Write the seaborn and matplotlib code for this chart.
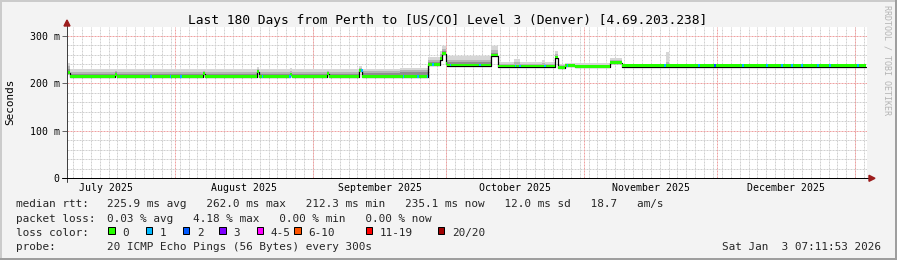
import numpy as np
import pandas as pd
import matplotlib
matplotlib.use("Agg")
import matplotlib.pyplot as plt
import seaborn as sns
from matplotlib.patches import Rectangle, Polygon
from matplotlib.lines import Line2D

# ---------------- data ----------------
TITLE = "Last 180 Days from Perth to [US/CO] Level 3 (Denver) [4.69.203.238]"
START = pd.Timestamp("2025-07-07 15:35")
SPAN_DAYS = 180
MONTH_LABELS = ["July 2025", "August 2025", "September 2025",
                "October 2025", "November 2025", "December 2025"]
Y_TICKS = [0, 100, 200, 300]
Y_TICK_LABELS = ["0", "100 m", "200 m", "300 m"]

seg_day = [0.0, 0.6, 10.8, 11.2, 30.6, 31.0, 42.7, 43.1, 50.1, 50.6, 58.4, 58.9,
           65.8, 66.3, 75.0, 81.3, 84.0, 84.4, 85.2, 85.5, 95.5, 96.9, 100.5,
           102.0, 106.8, 107.6, 109.8, 110.4, 112.1, 114.4, 122.2, 124.9,
           134.8, 135.5]
seg_median = [222, 212.8, 218, 212.5, 219, 212.6, 224, 212.4, 217, 212.5, 219, 212.4,
              226, 212.6, 212.3, 237.5, 250, 262, 241, 237, 258, 235, 235,
              235, 235, 235, 254, 232, 236.5, 234.8, 243, 235.1,
              235.1, 235.1]
seg_smoke_dark = [230, 220, 223, 220, 222, 220, 228, 220, 221, 220, 222, 220,
                  229, 221, 223, 244, 256, 267, 247, 244, 264, 238, 239,
                  238, 239, 238, 258, 235, 239, 237, 246, 236.5,
                  236.5, 236.5]
seg_smoke_mid = [236, 224, 226, 224, 225, 224, 231, 224.5, 225, 224, 225, 224,
                 232, 225, 227, 250, 262, 273, 253, 250, 270, 241, 244,
                 241, 243, 241, 262, 238, 241, 239, 249, 237.5,
                 245, 237.5]
seg_smoke_top = [242, 230, 231, 230, 230, 229.5, 235, 230, 232, 230, 230, 229.5,
                 236, 230, 232, 256, 268, 279, 260, 257, 278, 245, 251,
                 245, 250, 244, 267, 241, 243, 242, 253, 239,
                 265, 239]

loss_day = [18.7, 23.1, 25.4, 43.8, 49.9, 66.1, 75.5, 78.7, 80.9, 82.2, 86.1,
            92.8, 100.7, 101.8, 107.4, 112.4, 134.4, 142.0, 145.6, 151.9,
            157.3, 160.7, 162.9, 165.2, 168.8, 171.5, 177.8]
loss_count = [1, 1, 1, 1, 1, 1, 1, 1, 1, 1, 1,
              1, 1, 1, 1, 1, 1, 1, 2, 1,
              1, 1, 1, 1, 1, 1, 1]

LOSS_LABELS = ["0", "1", "2", "3", "4-5", "6-10", "11-19", "20/20"]
LOSS_COLORS = ["#26ff00", "#00b8ff", "#0059ff", "#7e00ff",
               "#ff00ff", "#ff5500", "#ff0000", "#a10000"]

RTT_LINE = "225.9 ms avg   262.0 ms max   212.3 ms min   235.1 ms now   12.0 ms sd   18.7   am/s"
LOSS_LINE = "0.03 % avg   4.18 % max   0.00 % min   0.00 % now"
PROBE_LINE = "20 ICMP Echo Pings (56 Bytes) every 300s"
STAMP = "Sat Jan  3 07:11:53 2026"

# ---------------- style ----------------
sns.set_theme(style="white")
plt.rcParams["font.family"] = ["DejaVu Sans Mono"]

W, H = 897, 260
fig = plt.figure(figsize=(W / 100, H / 100), dpi=100, facecolor="#F3F3F3")


def fx(px):
    return px / W


def fy(py):
    return 1 - py / H


AX_L, AX_R, AX_T, AX_B = 67, 867, 27, 178.3
ax = fig.add_axes([fx(AX_L), fy(AX_B), (AX_R - AX_L) / W, (AX_B - AX_T) / H])
ax.set_facecolor("white")
Y_MAX = 318.5
ax.set_xlim(0, SPAN_DAYS)
ax.set_ylim(0, Y_MAX)
for s in ax.spines.values():
    s.set_visible(False)


def day_of(ts):
    return (pd.Timestamp(ts) - START) / pd.Timedelta(days=1)


# grid
minor_days = [day_of(t) for t in pd.date_range("2025-07-03", "2026-01-05", freq="2D")]
minor_days = [d for d in minor_days if 0 < d < SPAN_DAYS]
month_starts = pd.date_range("2025-07-01", "2026-01-01", freq="MS")
major_days = [day_of(t) for t in month_starts if 0 < day_of(t) < SPAN_DAYS]
dot = (0, (2, 1))
ax.vlines(minor_days, 0, Y_MAX, colors="#D0D0D0", lw=0.72, linestyles=dot, zorder=0.5)
ax.hlines([v for v in range(20, 320, 20) if v % 100], 0, SPAN_DAYS,
          colors="#D0D0D0", lw=0.72, linestyles=dot, zorder=0.5)
ax.vlines(major_days, 0, Y_MAX, colors="#EFA0A0", lw=0.72, linestyles=dot, zorder=0.6)
ax.hlines([100, 200, 300], 0, SPAN_DAYS, colors="#EFA0A0", lw=0.72,
          linestyles=dot, zorder=0.6)

# step arrays
edges = np.array(seg_day + [SPAN_DAYS - 0.3])
def ext(a):
    return np.array(a + [a[-1]])
med = ext(seg_median)
sd = ext(seg_smoke_dark)
sm = ext(seg_smoke_mid)
st = ext(seg_smoke_top)

ax.fill_between(edges, med, st, step="post", color="#D6D6D6", lw=0, zorder=1)
ax.fill_between(edges, med, sm, step="post", color="#B4B4B4", lw=0, zorder=1.1)
ax.fill_between(edges, med, sd, step="post", color="#8E8E8E", lw=0, zorder=1.2)

df = pd.DataFrame({"day": edges, "median": med})
sns.lineplot(data=df, x="day", y="median", drawstyle="steps-post", color="black",
             lw=0.9, estimator=None, ax=ax, zorder=2)
BAND = 4.5
ax.fill_between(edges, med - 1.6, med + BAND, step="post", color=LOSS_COLORS[0],
                lw=0, zorder=3)
for d, c in zip(loss_day, loss_count):
    i = np.searchsorted(edges, d, side="right") - 1
    m = med[i]
    ax.fill_between([d, d + 0.4], m - 1.6, m + BAND, color=LOSS_COLORS[c], lw=0, zorder=3.1)

ax.set_xlabel("")
ax.set_ylabel("")

# x tick labels at mid month
mids = []
for t in month_starts[:6]:
    dim = t.days_in_month
    mids.append(day_of(t) + dim / 2.0)
ax.set_xticks(mids, MONTH_LABELS)
ax.tick_params(axis="x", length=0, pad=3.4, labelsize=7.15, labelcolor="black")
ax.set_yticks(Y_TICKS, Y_TICK_LABELS)
ax.tick_params(axis="y", length=3.6, width=0.72, color="#666666", pad=1.8,
               labelsize=7.1, labelcolor="black", left=True)

# axis lines + arrows (figure pixels)
def line_px(x0, y0, x1, y1, color, lw=0.72):
    fig.add_artist(Line2D([fx(x0), fx(x1)], [fy(y0), fy(y1)], color=color, lw=lw,
                          transform=fig.transFigure, zorder=5))

line_px(AX_L, 182, AX_L, 24, "#404040")
line_px(62, AX_B, 869, AX_B, "black")
fig.add_artist(Polygon([[fx(64), fy(26)], [fx(70), fy(26)], [fx(67), fy(20)]],
                       closed=True, color="#9C1C1C", transform=fig.transFigure, zorder=6))
fig.add_artist(Polygon([[fx(869), fy(175.3)], [fx(869), fy(181.3)], [fx(875), fy(178.3)]],
                       closed=True, color="#9C1C1C", transform=fig.transFigure, zorder=6))

# texts
fig.text(fx(447.5), fy(24), TITLE, ha="center", va="baseline", fontsize=9.3, color="black")
fig.text(fx(10.7), fy(101.7), "Seconds", rotation=90, ha="center", va="center",
         fontsize=7.9, color="black")
fig.text(fx(886.5), fy(5), "RRDTOOL / TOBI OETIKER", rotation=270, ha="center", va="top",
         fontsize=6.0, color="#B4B4B4")

LEG = 7.95
fig.text(fx(16), fy(207.3), "median rtt:", ha="left", va="baseline", fontsize=LEG)
fig.text(fx(106.5), fy(207.3), RTT_LINE, ha="left", va="baseline", fontsize=LEG)
fig.text(fx(16), fy(221.7), "packet loss:", ha="left", va="baseline", fontsize=LEG)
fig.text(fx(106.5), fy(221.7), LOSS_LINE, ha="left", va="baseline", fontsize=LEG)
fig.text(fx(16), fy(235.7), "loss color:", ha="left", va="baseline", fontsize=LEG)
box_x = [108.3, 145.7, 182.7, 219.3, 256.7, 294.0, 365.7, 437.7]
for bx, lab, col in zip(box_x, LOSS_LABELS, LOSS_COLORS):
    fig.add_artist(Rectangle((fx(bx), fy(234.0)), 6.7 / W, 6.7 / H, facecolor=col,
                             edgecolor="black", lw=0.72, transform=fig.transFigure))
    fig.text(fx(bx + 14.2), fy(235.7), lab, ha="left", va="baseline", fontsize=LEG)
fig.text(fx(16), fy(250), "probe:", ha="left", va="baseline", fontsize=LEG)
fig.text(fx(106.5), fy(250), PROBE_LINE, ha="left", va="baseline", fontsize=LEG)
fig.text(fx(880.5), fy(250), STAMP, ha="right", va="baseline", fontsize=LEG)

# border shading
fig.add_artist(Rectangle((0, 1 - 2 / H), 1, 2 / H, color="#CBCBCB", transform=fig.transFigure, lw=0))
fig.add_artist(Rectangle((0, 0), 2 / W, 1, color="#CBCBCB", transform=fig.transFigure, lw=0))
fig.add_artist(Rectangle((0, 0), 1, 2.5 / H, color="#9E9E9E", transform=fig.transFigure, lw=0))
fig.add_artist(Rectangle((1 - 2 / W, 0), 2 / W, 1, color="#9E9E9E", transform=fig.transFigure, lw=0))

fig.savefig("out.png", dpi=100, facecolor=fig.get_facecolor())
